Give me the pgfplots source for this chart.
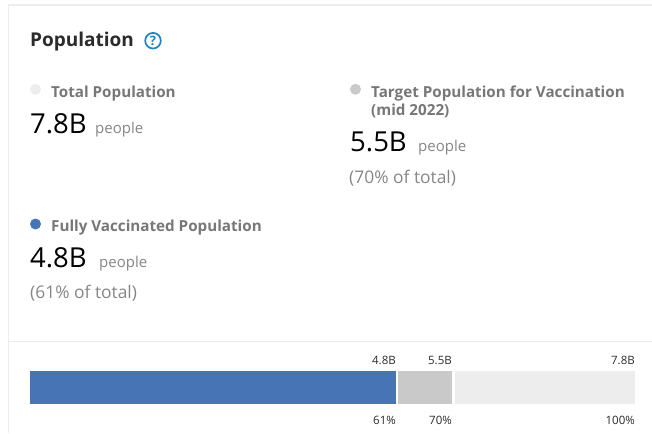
\documentclass[border=0pt]{standalone}
\usepackage{fontspec}
\setmainfont{Open Sans}
\usepackage{pgfplots}
\pgfplotsset{compat=1.18}

\definecolor{fullblue}{HTML}{4674B5}
\definecolor{targetgray}{HTML}{C9C9C9}
\definecolor{totalgray}{HTML}{EDEDED}
\definecolor{labelgray}{HTML}{777777}
\definecolor{softgray}{HTML}{868686}
\definecolor{helpblue}{HTML}{1F84C6}
\definecolor{inkdark}{HTML}{2B2B2B}

% text placed in image pixels: x, y of the baseline
\newcommand{\txt}[5][base west]{\node[anchor=#1,inner sep=0pt,text=#3] at (#2) {\fontsize{#4}{#4}\selectfont #5};}

\begin{document}
\begin{tikzpicture}[x=1pt,y=-1pt]
\path[use as bounding box] (0,0) rectangle (652,433);

% card edges
\fill[totalgray] (7.5,5) rectangle (9,433);
\fill[totalgray] (7.5,4.5) rectangle (652,6);
\fill[totalgray] (9,340.5) rectangle (652,342);

\begin{axis}[
  at={(30pt,-404pt)}, anchor=south west,
  scale only axis, width=605pt, height=33pt,
  xmin=0, xmax=100, ymin=0, ymax=1,
  hide axis
]
\addplot[fill=totalgray, draw=none] coordinates {(70.2,0) (100,0) (100,1) (70.2,1)} -- cycle;
\addplot[fill=targetgray, draw=none] coordinates {(60.9,0) (69.8,0) (69.8,1) (60.9,1)} -- cycle;
\addplot[fill=fullblue, draw=none] coordinates {(0,0) (60.5,0) (60.5,1) (0,1)} -- cycle;
\end{axis}

% header
\txt{30,47}{inkdark}{19}{\bfseries Population}
\draw[helpblue, line width=1.7pt] (153,40.7) circle (7.8);
\txt[base]{153,45.5}{helpblue}{13}{\bfseries ?}

% total
\fill[totalgray] (35.5,89.3) circle (5.5);
\txt{51,97}{labelgray}{15.2}{\bfseries Total Population}
\txt{30,133}{black}{27.5}{7.8B}
\txt{95,133}{softgray}{15}{people}

% target
\fill[targetgray] (355.5,89.3) circle (5.5);
\txt{371,97}{labelgray}{15.2}{\bfseries Target Population for Vaccination}
\txt{371,115}{labelgray}{15.2}{\bfseries (mid 2022)}
\txt{350,151}{black}{27.5}{5.5B}
\txt{418,151}{softgray}{15}{people}
\txt{349,183}{softgray}{17.4}{(70\% of total)}

% fully vaccinated
\fill[fullblue] (35.5,224) circle (5.5);
\txt{51,231}{labelgray}{15.2}{\bfseries Fully Vaccinated Population}
\txt{30,267}{black}{27.5}{4.8B}
\txt{99,267}{softgray}{15}{people}
\txt{30,298}{softgray}{17.4}{(61\% of total)}

% bar labels
\txt[base east]{396,364}{inkdark}{11.5}{4.8B}
\txt[base east]{452,364}{inkdark}{11.5}{5.5B}
\txt[base east]{635,364}{inkdark}{11.5}{7.8B}
\txt[base east]{396,424}{inkdark}{11.5}{61\%}
\txt[base east]{452,424}{inkdark}{11.5}{70\%}
\txt[base east]{635,424}{inkdark}{11.5}{100\%}
\end{tikzpicture}
\end{document}
